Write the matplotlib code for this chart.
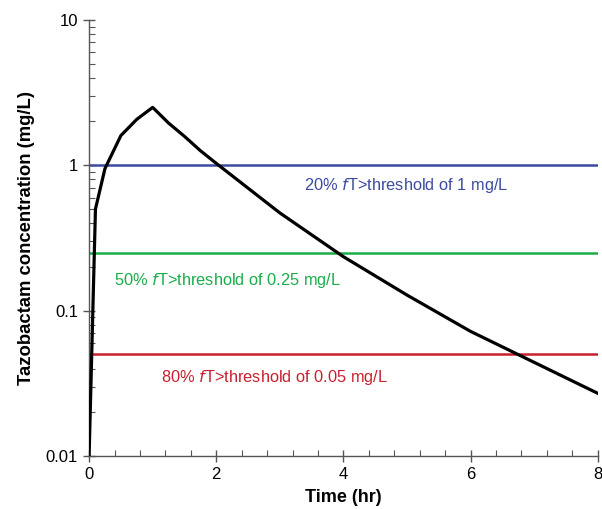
import numpy as np
import matplotlib.pyplot as plt
from matplotlib.ticker import FixedLocator, MultipleLocator, LogLocator, NullFormatter

plt.rcParams['font.family'] = ['Liberation Sans', 'DejaVu Sans']

# concentration-time profile
time_hr = [0, 0.1, 0.25, 0.5, 0.75, 1.0, 1.25, 1.5, 1.75, 2, 3, 4, 5, 6, 8]
conc = [0.01, 0.5, 0.95, 1.6, 2.07, 2.5, 1.95, 1.58, 1.26, 1.03, 0.47, 0.235, 0.128, 0.072, 0.027]

# threshold lines and their labels
thresholds = [1, 0.25, 0.05]
threshold_colors = ['#3c4ba0', '#19ad4b', '#c8202e']
threshold_labels = [r'20% $\it{f}$T>threshold of 1 mg/L',
                    r'50% $\it{f}$T>threshold of 0.25 mg/L',
                    r'80% $\it{f}$T>threshold of 0.05 mg/L']
label_x = [4.98, 2.18, 2.92]
label_y = [0.73, 0.160, 0.0349]

fig = plt.figure(figsize=(6.02, 5.09), dpi=100)
ax = fig.add_axes([0.148, 0.104, 0.845, 0.857])

for thr, col in zip(thresholds, threshold_colors):
    ax.axhline(thr, color=col, lw=1.8, zorder=2)
ax.plot(time_hr, conc, color='black', lw=2.3, zorder=3)

for lab, x, y, col in zip(threshold_labels, label_x, label_y, threshold_colors):
    ax.text(x, y, lab, color=col, fontsize=11.75, ha='center', va='center')

ax.set_yscale('log')
ax.set_xlim(0, 8)
ax.set_ylim(0.01, 10)
ax.xaxis.set_major_locator(MultipleLocator(2))
ax.xaxis.set_minor_locator(MultipleLocator(0.4))
ax.yaxis.set_major_locator(FixedLocator([0.01, 0.1, 1, 10]))
ax.yaxis.set_minor_locator(LogLocator(base=10, subs=np.arange(2, 10)))
ax.yaxis.set_minor_formatter(NullFormatter())
ax.set_yticklabels(['0.01', '0.1', '1', '10'])

for side in ['top', 'right']:
    ax.spines[side].set_visible(False)
for side in ['left', 'bottom']:
    ax.spines[side].set_color('#555555')
    ax.spines[side].set_linewidth(1.0)

ax.tick_params(which='major', direction='inout', length=8, width=1.0, color='#555555',
               labelsize=12, pad=4)
ax.tick_params(which='minor', direction='in', length=4, width=0.8, color='#555555')

ax.set_xlabel('Time (hr)', fontsize=13, fontweight='bold', labelpad=5)
ax.set_ylabel('Tazobactam concentration (mg/L)', fontsize=13.3, fontweight='bold', labelpad=8)

fig.savefig('out.png', dpi=100)
